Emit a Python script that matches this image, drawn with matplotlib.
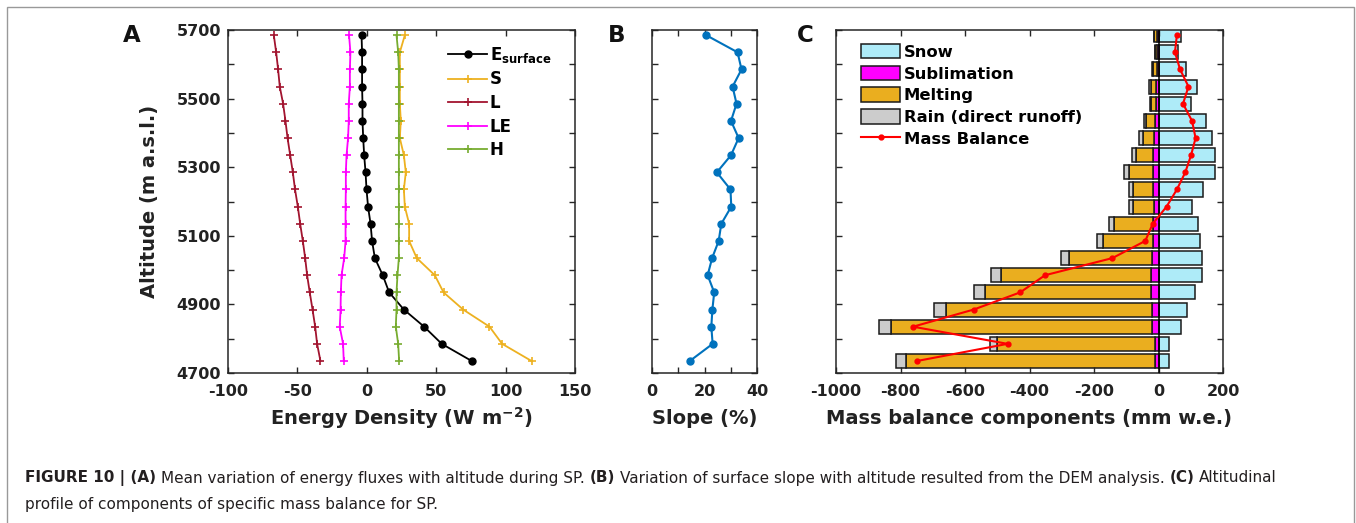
import matplotlib
matplotlib.use("Agg")
import matplotlib.pyplot as plt
from matplotlib.patches import Rectangle, Patch
from matplotlib.lines import Line2D

plt.rcParams["font.family"] = ["DejaVu Sans"]
plt.rcParams["font.weight"] = "bold"
plt.rcParams["axes.labelweight"] = "bold"
plt.rcParams["mathtext.fontset"] = "dejavusans"
plt.rcParams["axes.unicode_minus"] = False

W, H = 1356, 523

# altitude of each band (bottom -> top), shared by the three panels
ALTITUDE = [4735, 4785, 4835, 4885, 4935, 4985, 5035, 5085, 5135, 5185,
            5235, 5285, 5335, 5385, 5435, 5485, 5535, 5585, 5635, 5685]

# panel A: energy fluxes (W m-2)
E_SURFACE = [75.6, 54.0, 41.3, 26.7, 16.1, 11.5, 5.8, 3.8, 2.7, 0.9,
             -0.2, -0.9, -1.9, -2.6, -3.1, -3.1, -3.4, -3.4, -3.4, -3.8]
S_FLUX = [118.7, 97.5, 88.4, 69.4, 55.3, 49.0, 36.0, 30.5, 30.5, 27.4,
          26.7, 28.1, 26.7, 23.8, 24.5, 23.8, 23.8, 23.8, 23.8, 27.4]
L_FLUX = [-33.4, -35.8, -37.2, -39.1, -41.1, -43.0, -44.4, -46.1, -48.0, -49.7,
          -51.7, -53.3, -55.2, -57.1, -58.6, -60.3, -62.7, -63.9, -65.3, -67.0]
LE_FLUX = [-16.6, -17.1, -19.5, -18.9, -18.7, -18.2, -16.3, -15.3, -15.3, -15.3,
           -15.1, -15.1, -14.6, -13.5, -13.0, -13.0, -12.2, -12.2, -11.8, -12.8]
H_FLUX = [23.3, 22.6, 20.9, 21.4, 21.4, 22.1, 23.1, 23.1, 23.1, 23.1,
          23.1, 23.1, 23.1, 23.1, 23.1, 23.1, 23.1, 23.1, 22.6, 21.4]

# panel B: surface slope (%)
SLOPE = [14.4, 23.1, 22.6, 23.0, 23.7, 21.2, 22.9, 25.4, 26.4, 30.2,
         29.9, 24.7, 30.1, 33.0, 30.1, 32.2, 30.7, 34.1, 32.6, 20.6]

# panel C: mass balance components (mm w.e.)
SNOW = [33, 33, 70, 89, 112, 136, 136, 129, 124, 105,
        137, 176, 174, 165, 146, 101, 120, 85, 62, 70]
SUBLIMATION = [12, 11, 21, 21, 22, 24, 21, 17, 16, 14,
               16, 18, 17, 14, 12, 8, 7, 6, 5, 5]
MELTING = [771, 490, 810, 639, 517, 463, 256, 155, 123, 66,
           63, 74, 54, 34, 28, 15, 17, 12, 6, 8]
RAIN = [32, 22, 37, 35, 32, 31, 25, 18, 16, 12,
        12, 14, 11, 11, 6, 4, 5, 1, 1, 1]
MASS_BALANCE = [-749, -468, -761, -573, -429, -352, -143, -41, -18, 25,
                57, 83, 101, 115, 104, 76, 93, 67, 51, 57]

AX_COLOR = "#262626"
TXT = "#222222"


def px_axes(fig, left, top, right, bottom):
    return fig.add_axes([left / W, 1 - bottom / H, (right - left) / W, (bottom - top) / H])


def style(ax):
    for sp in ax.spines.values():
        sp.set_linewidth(1.1)
        sp.set_color(AX_COLOR)
    ax.set_ylim(4700, 5700)
    ax.set_yticks(range(4700, 5701, 100))
    ax.tick_params(which="both", direction="in", length=4, width=1.0, color=AX_COLOR,
                   top=True, right=True, labelsize=11.5, labelcolor=TXT)
    ax.tick_params(axis="x", pad=8)
    ax.tick_params(axis="y", pad=5)


fig = plt.figure(figsize=(W / 100, H / 100), dpi=100)

# ---- panel A
axA = px_axes(fig, 228, 30, 575, 373)
style(axA)
axA.plot(E_SURFACE, ALTITUDE, "-o", color="black", lw=1.3, ms=5, label=r"$\mathbf{E}_{\mathbf{surface}}$")
axA.plot(S_FLUX, ALTITUDE, "-+", color="#EDB120", lw=1.3, ms=6, mew=1.2, label="S")
axA.plot(L_FLUX, ALTITUDE, "-+", color="#A2142F", lw=1.3, ms=6, mew=1.2, label="L")
axA.plot(LE_FLUX, ALTITUDE, "-+", color="#FF00FF", lw=1.3, ms=6, mew=1.2, label="LE")
axA.plot(H_FLUX, ALTITUDE, "-+", color="#77AC30", lw=1.3, ms=6, mew=1.2, label="H")
axA.set_xlim(-100, 150)
axA.set_xticks(range(-100, 151, 50))
axA.set_yticklabels([str(v) if (v - 4700) % 200 == 0 else "" for v in range(4700, 5701, 100)])
axA.set_xlabel(r"Energy Density (W m$^{\mathbf{-2}}$)", fontsize=14, color=TXT)
axA.set_ylabel("Altitude (m a.s.l.)", fontsize=14, color=TXT)
axA.yaxis.set_label_coords(-0.199, 0.5)
axA.xaxis.set_label_coords(0.5, -0.095)
axA.legend(loc="upper left", bbox_to_anchor=(448 / W, 1 - 45 / H), bbox_transform=fig.transFigure,
           frameon=False, fontsize=12, handlelength=2.35, handletextpad=0.15,
           labelspacing=0.33, borderpad=0, borderaxespad=0)

# ---- panel B
axB = px_axes(fig, 652, 30, 757, 373)
style(axB)
axB.plot(SLOPE, ALTITUDE, "-o", color="#0072BD", lw=1.5, ms=5)
axB.set_xlim(0, 40)
axB.set_xticks([0, 10, 20, 30, 40])
axB.set_xticklabels(["0", "", "20", "", "40"])
axB.set_yticklabels([])
axB.set_xlabel("Slope (%)", fontsize=14, color=TXT)
axB.xaxis.set_label_coords(0.5, -0.105)

# ---- panel C
axC = px_axes(fig, 836, 30, 1223, 373)
style(axC)
bar_h = 41
edge = dict(edgecolor="#1a1a1a", linewidth=1.1)
neg_sub = [-v for v in SUBLIMATION]
neg_melt = [-v for v in MELTING]
neg_rain = [-v for v in RAIN]
left_melt = neg_sub
left_rain = [a + b for a, b in zip(neg_sub, neg_melt)]
axC.barh(ALTITUDE, SNOW, height=bar_h, color="#AEEBF8", **edge)
axC.barh(ALTITUDE, neg_sub, height=bar_h, color="#FF00FF", **edge)
axC.barh(ALTITUDE, neg_melt, left=left_melt, height=bar_h, color="#EAAE1F", **edge)
axC.barh(ALTITUDE, neg_rain, left=left_rain, height=bar_h, color="#CCCCCC", **edge)
axC.axvline(0, color="black", lw=1.1, zorder=3)
axC.plot(MASS_BALANCE, ALTITUDE, "-o", color="#FF0000", lw=1.5, ms=3.5, zorder=4)
axC.set_xlim(-1000, 200)
axC.set_xticks(range(-1000, 201, 200))
axC.set_yticklabels([])
axC.set_xlabel("Mass balance components (mm w.e.)", fontsize=14, color=TXT)
axC.xaxis.set_label_coords(0.5, -0.105)
handles = [Patch(facecolor="#AEEBF8", **edge), Patch(facecolor="#FF00FF", **edge),
           Patch(facecolor="#EAAE1F", **edge), Patch(facecolor="#CCCCCC", **edge),
           Line2D([], [], color="#FF0000", lw=1.5, marker="o", ms=3.5)]
labels = ["Snow", "Sublimation", "Melting", "Rain (direct runoff)", "Mass Balance"]
axC.legend(handles, labels, loc="upper left", bbox_to_anchor=(861 / W, 1 - 44 / H),
           bbox_transform=fig.transFigure, frameon=False, fontsize=11.8,
           handlelength=2.4, handleheight=0.98, handletextpad=0.2,
           labelspacing=0.36, borderpad=0, borderaxespad=0)

# panel letters
for letter, x in (("A", 132), ("B", 617), ("C", 805)):
    fig.text(x / W, 1 - 35 / H, letter, fontsize=16.5, fontweight="bold",
             ha="center", va="center", color="#111111")

# outer frame
fig.patches.append(Rectangle((7 / W, -0.2), 1347 / W, 1.2 - 7 / H, transform=fig.transFigure,
                             fill=False, edgecolor="#999999", linewidth=1.0, clip_on=False))

# caption, built from bold and normal runs
renderer = fig.canvas.get_renderer()


def text_w(s, size, weight):
    t = fig.text(0, 0, s, fontsize=size, fontweight=weight)
    w = t.get_window_extent(renderer).width
    t.remove()
    return w


line1 = [("FIGURE 10 | (A)", "bold"), ("Mean variation of energy fluxes with altitude during SP.", "normal"),
         ("(B)", "bold"), ("Variation of surface slope with altitude resulted from the DEM analysis.", "normal"),
         ("(C)", "bold"), ("Altitudinal", "normal")]
line2 = [("profile of components of specific mass balance for SP.", "normal")]

base = 11.0
space = text_w("x x", base, "normal") - text_w("xx", base, "normal")
total = sum(text_w(s, base, wt) for s, wt in line1) + space * (len(line1) - 1)
cap_size = base * 1251 / total
space = space * cap_size / base


def draw_line(runs, x0, y0):
    x = x0
    for s, wt in runs:
        t = fig.text(x / W, 1 - y0 / H, s, fontsize=cap_size, fontweight=wt,
                     va="center", ha="left", color="#231F20")
        x += t.get_window_extent(renderer).width + space


draw_line(line1, 25, 478)
draw_line(line2, 25, 505)

fig.savefig("out.png", dpi=100)
